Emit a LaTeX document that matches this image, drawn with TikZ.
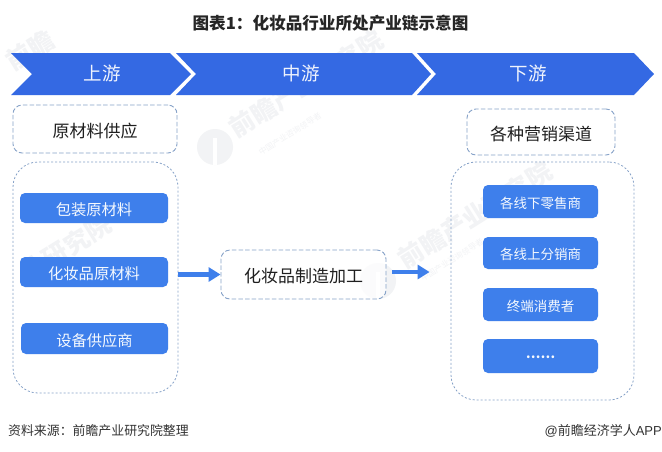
\documentclass[tikz,border=0pt]{standalone}
\usepackage{fontspec}
\setmainfont{Noto Sans CJK SC}
\newfontfamily\lat{Liberation Sans}
\usetikzlibrary{arrows.meta}
\definecolor{chev}{HTML}{3469E3}
\definecolor{btn}{HTML}{3E7FEB}
\definecolor{dash}{HTML}{86A2C8}
\definecolor{wm}{HTML}{F2F3F5}
\newcommand{\fs}[1]{\fontsize{#1}{#1}\selectfont}
\tikzset{
  x=1pt,y=-1pt,
  chevshape/.style={fill=chev,draw=none},
  chevtext/.style={text=white!92!chev,font=\fs{18.5},inner sep=0pt,text height=15pt,text depth=0pt},
  dbox/.style={draw=dash,line width=.9pt,dash pattern=on 4.5pt off 2.2pt,rounded corners=9pt,fill=white,fill opacity=.75,text opacity=1,font=\fs{17},text=black!88,inner sep=0pt,text height=16pt,text depth=0pt},
  bigbox/.style={draw=dash,line width=.8pt,dash pattern=on 2pt off 2pt,rounded corners=25pt,inner sep=0pt},
  bluebox/.style={fill=btn,rounded corners=5pt,text=white!95!btn,inner sep=0pt},
  lbl/.style={font=\fs{15.3},text height=15.8pt,text depth=0pt},
  rbl/.style={font=\fs{13.5},text height=13.4pt,text depth=0pt},
  flow/.style={draw=btn,line width=4.4pt,-{Triangle[length=12pt,width=14pt]}},
  watermark/.style={text=wm,rotate=32,inner sep=0pt,font=\fs{25}\bfseries},
  wmsub/.style={text=wm,rotate=32,inner sep=0pt,font=\fs{8}},
  note/.style={inner sep=0pt,text=black!80,font=\fs{12.9}},
}
\begin{document}
\begin{tikzpicture}
\useasboundingbox (0,0) rectangle (662,451);
\fill[white] (0,0) rectangle (662,451);
% watermarks
\fill[wm] (215,147) circle (18pt);
\fill[white] (213,138) rectangle (217,165);
\node[watermark] (w1) at (306,84) {前瞻产业研究院};
\fill[wm] (378,281) circle (18pt);
\fill[white] (376,272) rectangle (380,299);
\node[watermark] (w2) at (475,215) {前瞻产业研究院};
\node[watermark] (w3) at (66,248) {业研究院};
\node[watermark] (w4) at (30,50) {前瞻};
\node[wmsub] (w5) at (290,134) {中国产业咨询领导者};
\node[wmsub] (w6) at (452,260) {中国产业咨询领导者};
% chevrons
\fill[chevshape] (11,53) -- (170,53) -- (191,74) -- (170,95) -- (11,95) -- (32,74) -- cycle;
\fill[chevshape] (176,53) -- (412,53) -- (431,74) -- (412,95) -- (176,95) -- (196,74) -- cycle;
\fill[chevshape] (417,53) -- (634,53) -- (654,74) -- (634,95) -- (417,95) -- (436,74) -- cycle;
\node[chevtext] (up) at (102,73) {上游};
\node[chevtext] (mid) at (301,73) {中游};
\node[chevtext] (down) at (528,73) {下游};
% title
\node[inner sep=0pt,font=\fs{16.6}\bfseries,text=black!85,text height=17pt,text depth=0pt] (title) at (330.5,21) {图表1：化妆品行业所处产业链示意图};
% left
\node[dbox,minimum width=164pt,minimum height=48pt] (raw) at (95,129) {原材料供应};
\node[bigbox,minimum width=165pt,minimum height=231pt] (left) at (95.5,277.5) {};
\node[bluebox,lbl,minimum width=148pt,minimum height=30pt] (l1) at (94,208) {包装原材料};
\node[bluebox,lbl,minimum width=148pt,minimum height=30pt] (l2) at (94,272) {化妆品原材料};
\node[bluebox,lbl,minimum width=147pt,minimum height=31pt] (l3) at (94.5,338.5) {设备供应商};
% centre
\node[dbox,minimum width=165pt,minimum height=49pt] (mfg) at (303.5,274.5) {化妆品制造加工};
% right
\node[dbox,minimum width=148pt,minimum height=46pt] (chan) at (541,132) {各种营销渠道};
\node[bigbox,minimum width=183pt,minimum height=238pt] (right) at (542.5,281) {};
\node[bluebox,rbl,minimum width=115pt,minimum height=33pt] (r1) at (540.5,201.5) {各线下零售商};
\node[bluebox,rbl,minimum width=115pt,minimum height=32pt] (r2) at (540.5,253) {各线上分销商};
\node[bluebox,rbl,minimum width=115pt,minimum height=33pt] (r3) at (540.5,304.5) {终端消费者};
\node[bluebox,font=\fs{13}\bfseries,text height=4pt,text depth=0pt,minimum width=115pt,minimum height=34pt] (r4) at (540.5,356) {……};
% arrows
\coordinate (a1s) at (left.east |- mfg.west);
\draw[flow] (a1s) -- (mfg.west);
\coordinate (a2s) at ([xshift=6pt,yshift=2.5pt]mfg.east);
\coordinate (a2e) at (a2s -| right.west);
\draw[flow,shorten >=21pt] (a2s) -- (a2e);
% footer
\node[note,anchor=west] (src) at (8,431) {资料来源：前瞻产业研究院整理};
\node[note,anchor=east,font=\fs{13}] (brand) at (662,431) {{\lat @}前瞻经济学人{\lat APP}};
\end{tikzpicture}
\end{document}
